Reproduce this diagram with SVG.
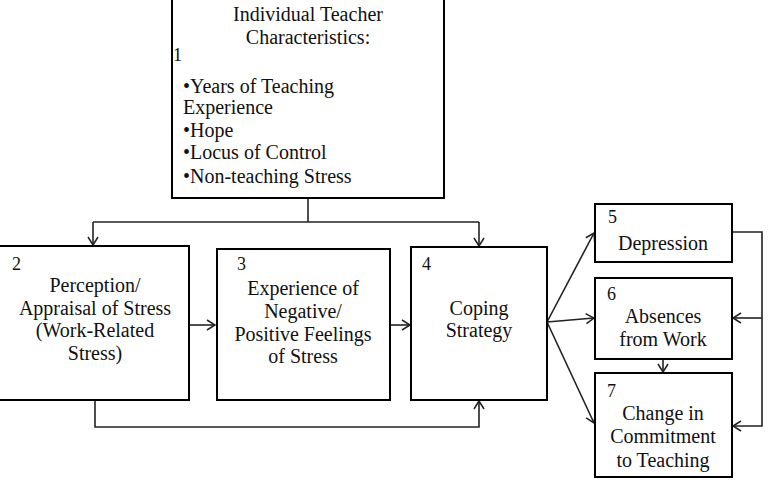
<svg xmlns="http://www.w3.org/2000/svg" width="774" height="480" viewBox="0 0 774 480">
<style>
.box{fill:#fff;stroke:#000;stroke-width:2}
text{font-family:"Liberation Serif","Times New Roman",serif;font-size:20px;fill:#111}
.n{font-size:18px}
.c{text-anchor:middle}
.ln{fill:none;stroke:#222;stroke-width:1.6}
</style>
<defs>
<marker id="ah" markerWidth="12" markerHeight="12" refX="9" refY="6" orient="auto" markerUnits="userSpaceOnUse">
<polyline points="1,1 9,6 1,11" fill="none" stroke="#222" stroke-width="1.5"/>
</marker>
</defs>
<rect width="774" height="480" fill="#fff"/>
<g id="connectors">
<path class="ln" d="M308,198 V222" stroke-width="2.5"/>
<path class="ln" d="M93,222 H479" stroke="#555"/>
<path class="ln" d="M93,222 V245" marker-end="url(#ah)"/>
<path class="ln" d="M479,222 V246" marker-end="url(#ah)"/>
<path class="ln" d="M190,325 H215" marker-end="url(#ah)"/>
<path class="ln" d="M390,325 H410" marker-end="url(#ah)"/>
<path class="ln" d="M95,400 V427 H479 V401" marker-end="url(#ah)"/>
<path class="ln" d="M547,322 L594,233" marker-end="url(#ah)"/>
<path class="ln" d="M547,322 L594,318" marker-end="url(#ah)"/>
<path class="ln" d="M547,322 L594,423" marker-end="url(#ah)"/>
<path class="ln" d="M663,359 V372" marker-end="url(#ah)"/>
<path class="ln" d="M732,232 H762 V426 H733" marker-end="url(#ah)"/>
<path class="ln" d="M762,318 H733" marker-end="url(#ah)"/>
</g>
<g id="node1">
<rect class="box" x="172" y="-5" width="272" height="203"/>
<text class="c" x="308" y="21">Individual Teacher</text>
<text class="c" x="308" y="44">Characteristics:</text>
<text class="n" x="173" y="61">1</text>
<text x="183" y="93">•Years of Teaching</text>
<text x="183" y="114">Experience</text>
<text x="183" y="137">•Hope</text>
<text x="183" y="159">•Locus of Control</text>
<text x="183" y="183">•Non-teaching Stress</text>
</g>
<g id="node2">
<rect class="box" x="-5" y="246" width="194" height="154"/>
<text class="n" x="12" y="270">2</text>
<text class="c" x="95" y="292">Perception/</text>
<text class="c" x="95" y="315">Appraisal of Stress</text>
<text class="c" x="95" y="337">(Work-Related</text>
<text class="c" x="95" y="360">Stress)</text>
</g>
<g id="node3">
<rect class="box" x="217" y="249" width="173" height="151"/>
<text class="n" x="237" y="270">3</text>
<text class="c" x="303" y="295">Experience of</text>
<text class="c" x="303" y="318">Negative/</text>
<text class="c" x="303" y="341">Positive Feelings</text>
<text class="c" x="303" y="363">of Stress</text>
</g>
<g id="node4">
<rect class="box" x="411" y="247" width="136" height="153"/>
<text class="n" x="422" y="270">4</text>
<text class="c" x="479" y="315">Coping</text>
<text class="c" x="479" y="337">Strategy</text>
</g>
<g id="node5">
<rect class="box" x="595" y="204" width="137" height="58"/>
<text class="n" x="608" y="223">5</text>
<text class="c" x="663" y="250">Depression</text>
</g>
<g id="node6">
<rect class="box" x="595" y="278" width="137" height="81"/>
<text class="n" x="607" y="300">6</text>
<text class="c" x="663" y="323">Absences</text>
<text class="c" x="663" y="346">from Work</text>
</g>
<g id="node7">
<rect class="box" x="595" y="373" width="137" height="104"/>
<text class="n" x="607" y="397">7</text>
<text class="c" x="663" y="420">Change in</text>
<text class="c" x="663" y="443">Commitment</text>
<text class="c" x="663" y="467">to Teaching</text>
</g>
</svg>
